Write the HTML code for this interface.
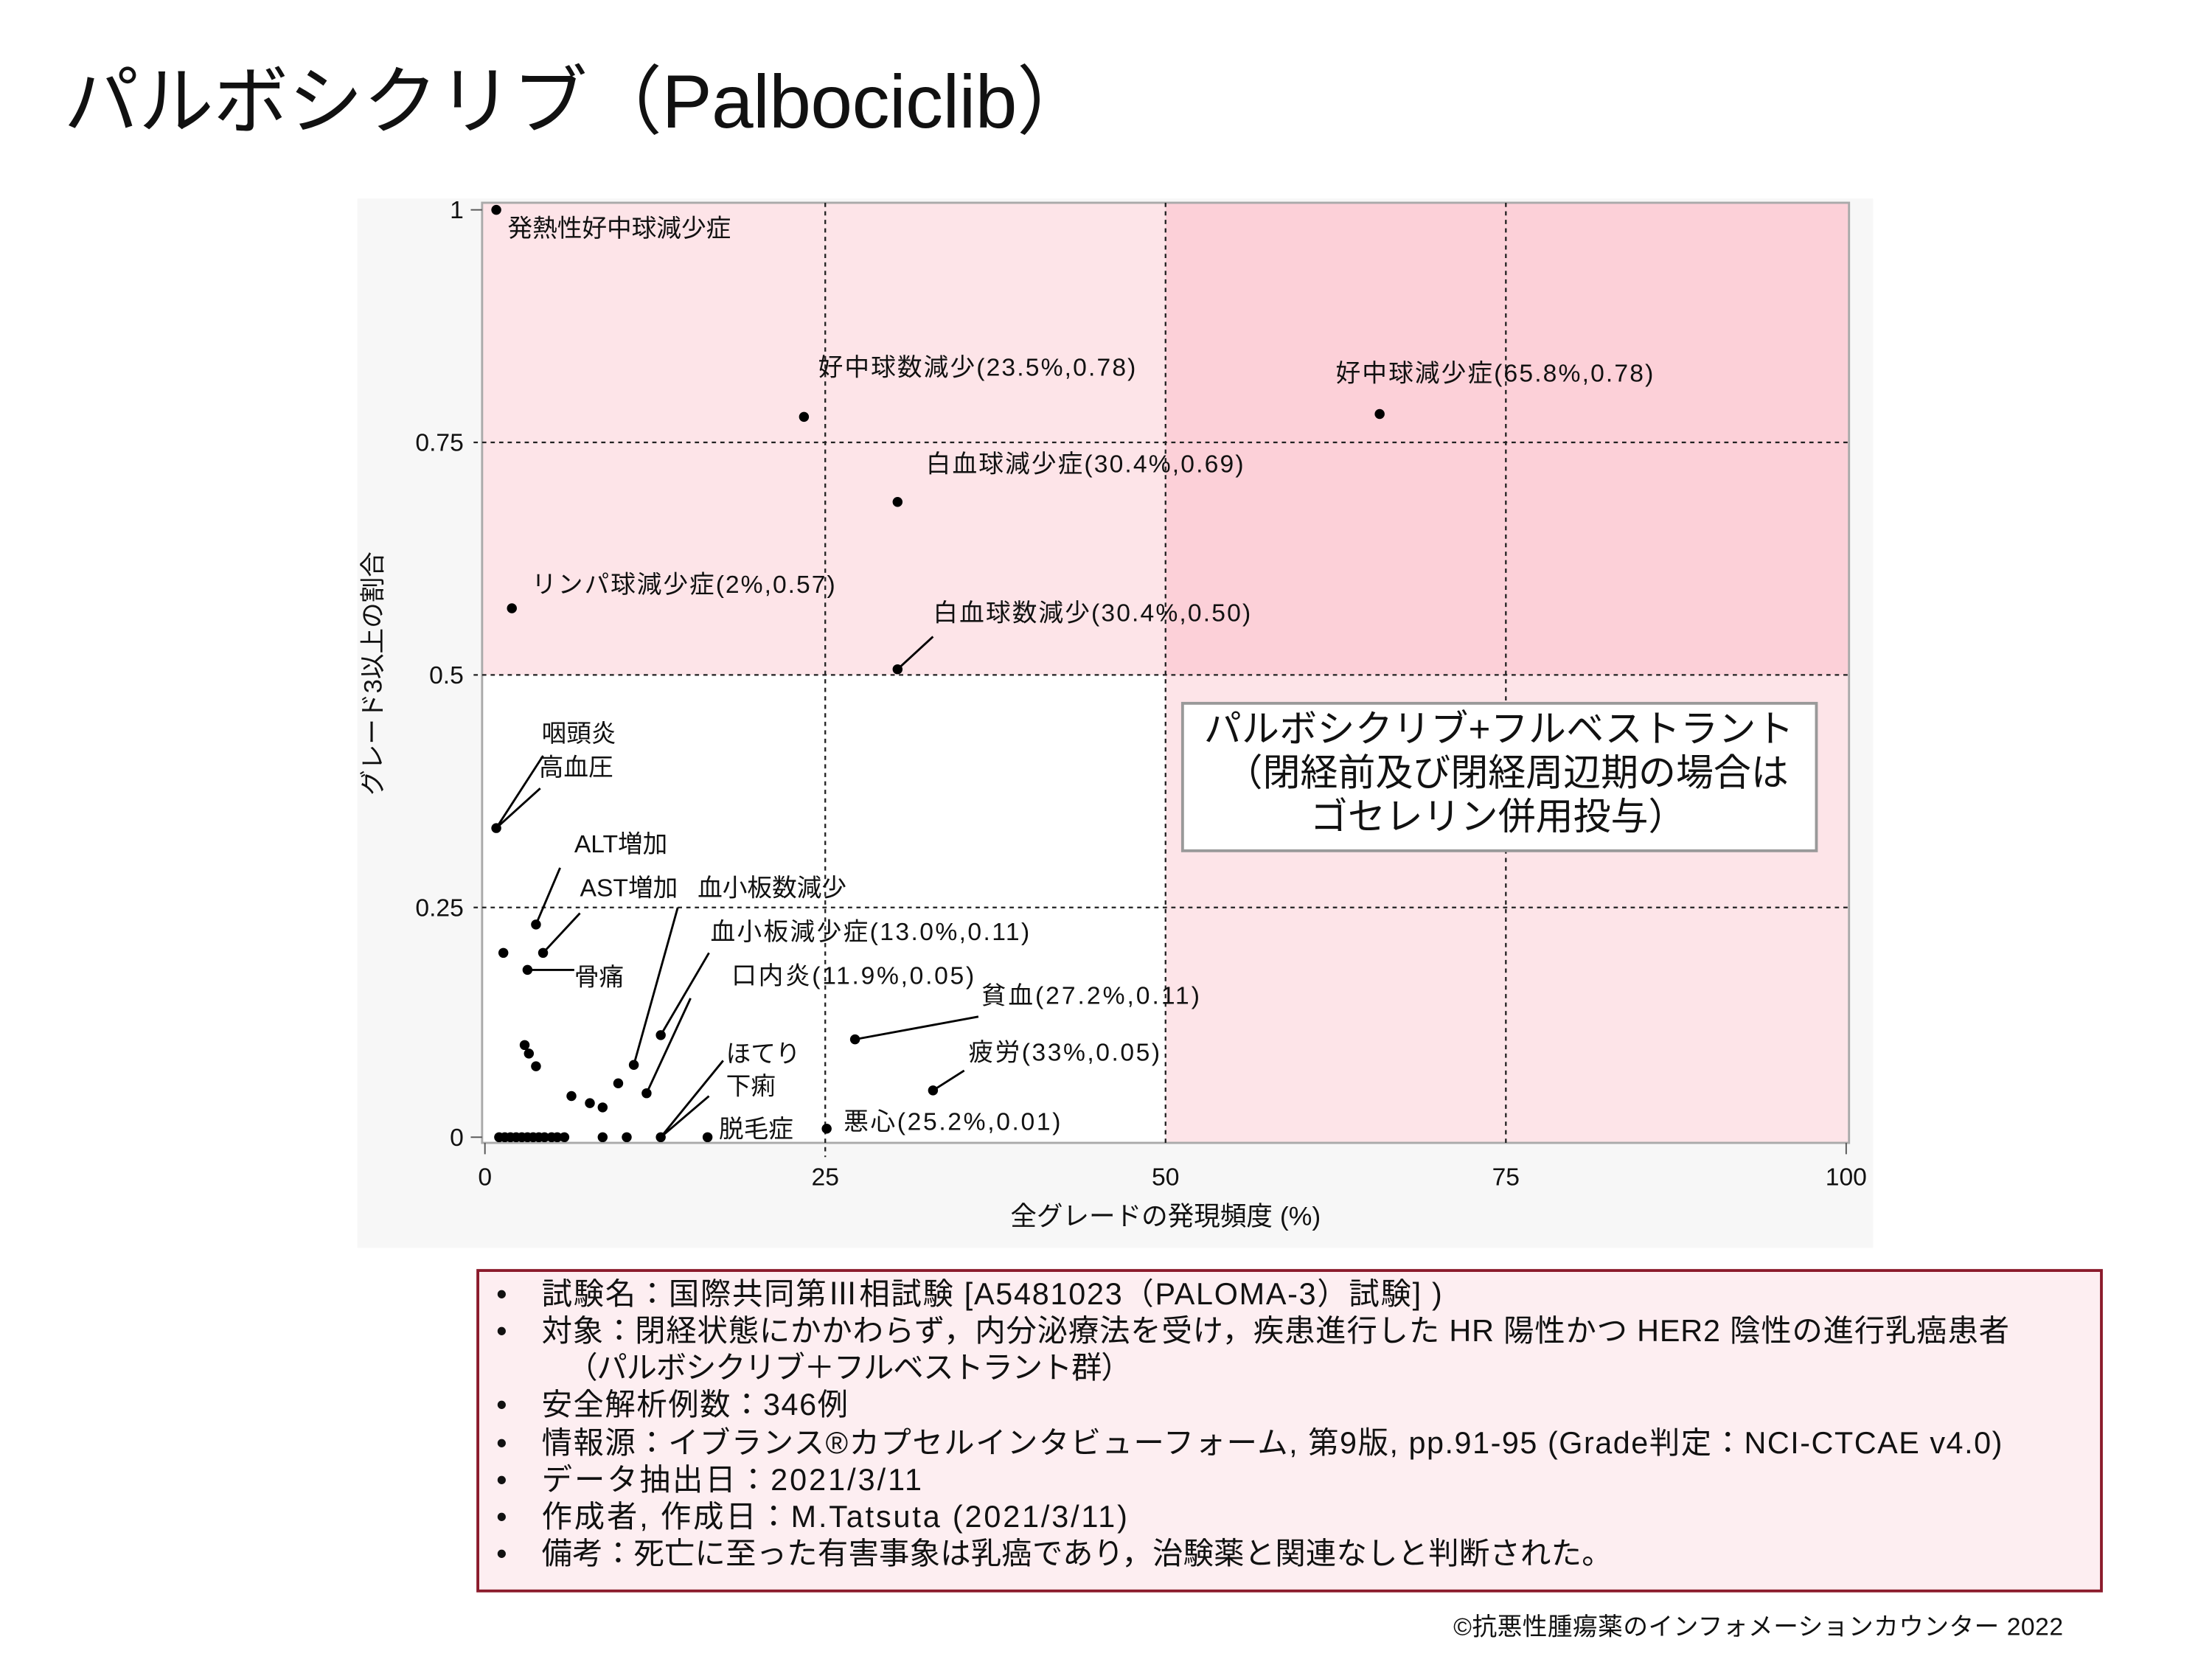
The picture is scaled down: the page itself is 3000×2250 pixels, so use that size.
<!DOCTYPE html>
<html><head><meta charset="utf-8"><style>
html,body{margin:0;padding:0;background:#fff;}
svg{display:block;}
text{font-family:"Liberation Sans","Noto Sans CJK JP",sans-serif;fill:#111;}
</style></head><body>
<svg width="3000" height="2250" viewBox="0 0 1560 1170" xmlns="http://www.w3.org/2000/svg">
<text x="45" y="90" font-size="53" textLength="725">パルボシクリブ（Palbociclib）</text>
<rect x="252" y="140" width="1069" height="740" fill="#f7f7f7"/>
<rect x="340" y="143" width="964" height="663" fill="#fff"/>
<rect x="340" y="143" width="482" height="333" fill="#fde4e8"/>
<rect x="822" y="143" width="482" height="333" fill="#fcd0d8"/>
<rect x="822" y="476" width="482" height="330" fill="#fde4e8"/>
<rect x="340" y="143" width="964" height="663" fill="none" stroke="#aaa" stroke-width="1.5"/>
<g stroke="#222" stroke-width="1.2" stroke-dasharray="3,3">
<line x1="582" y1="143" x2="582" y2="816"/>
<line x1="822" y1="143" x2="822" y2="806"/>
<line x1="1062" y1="143" x2="1062" y2="806"/>
<line x1="334" y1="312" x2="1304" y2="312"/>
<line x1="334" y1="476" x2="1304" y2="476"/>
<line x1="334" y1="640" x2="1304" y2="640"/>
</g>
<g stroke="#555" stroke-width="1">
<line x1="332" y1="148" x2="340" y2="148"/><line x1="332" y1="802" x2="340" y2="802"/>
<line x1="342" y1="806" x2="342" y2="814"/><line x1="1302" y1="806" x2="1302" y2="814"/>
</g>
<g font-size="17.5" text-anchor="end" fill="#333">
<text x="327" y="154">1</text><text x="327" y="318">0.75</text><text x="327" y="482">0.5</text><text x="327" y="646">0.25</text><text x="327" y="808">0</text>
</g>
<g font-size="17.5" text-anchor="middle">
<text x="342" y="836">0</text><text x="582" y="836">25</text><text x="822" y="836">50</text><text x="1062" y="836">75</text><text x="1302" y="836">100</text>
<text x="822" y="864" font-size="18.5">全グレードの発現頻度 (%)</text>
<text transform="translate(269,475) rotate(-90)" font-size="18">グレード3以上の割合</text>
</g>
<g stroke="#000" stroke-width="1.5">
<line x1="633" y1="472" x2="658" y2="449"/>
<line x1="350" y1="584" x2="381" y2="556"/>
<line x1="350" y1="584" x2="383" y2="533"/>
<line x1="378" y1="652" x2="395" y2="612"/>
<line x1="383" y1="672" x2="409" y2="644"/>
<line x1="372" y1="684" x2="405" y2="684"/>
<line x1="447" y1="751" x2="478" y2="640"/>
<line x1="466" y1="730" x2="500" y2="672"/>
<line x1="456" y1="771" x2="487" y2="704"/>
<line x1="603" y1="733" x2="690" y2="717"/>
<line x1="658" y1="769" x2="680" y2="755"/>
<line x1="466" y1="802" x2="510" y2="748"/>
<line x1="466" y1="802" x2="500" y2="773"/>
</g>
<g fill="#000">
<circle cx="350" cy="148" r="3.5"/><circle cx="567" cy="294" r="3.5"/><circle cx="973" cy="292" r="3.5"/>
<circle cx="633" cy="354" r="3.5"/><circle cx="361" cy="429" r="3.5"/><circle cx="633" cy="472" r="3.5"/>
<circle cx="350" cy="584" r="3.5"/><circle cx="378" cy="652" r="3.5"/><circle cx="383" cy="672" r="3.5"/>
<circle cx="355" cy="672" r="3.5"/><circle cx="372" cy="684" r="3.5"/><circle cx="447" cy="751" r="3.5"/>
<circle cx="466" cy="730" r="3.5"/><circle cx="456" cy="771" r="3.5"/><circle cx="603" cy="733" r="3.5"/>
<circle cx="658" cy="769" r="3.5"/><circle cx="583" cy="796" r="3.5"/><circle cx="466" cy="802" r="3.5"/>
<circle cx="370" cy="737" r="3.5"/><circle cx="373" cy="743" r="3.5"/><circle cx="378" cy="752" r="3.5"/>
<circle cx="403" cy="773" r="3.5"/><circle cx="416" cy="778" r="3.5"/><circle cx="425" cy="781" r="3.5"/>
<circle cx="436" cy="764" r="3.5"/><circle cx="499" cy="802" r="3.5"/><circle cx="425" cy="802" r="3.5"/>
<circle cx="442" cy="802" r="3.5"/>
<circle cx="352" cy="802" r="3.5"/><circle cx="356" cy="802" r="3.5"/><circle cx="360" cy="802" r="3.5"/>
<circle cx="364" cy="802" r="3.5"/><circle cx="368" cy="802" r="3.5"/><circle cx="372" cy="802" r="3.5"/>
<circle cx="376" cy="802" r="3.5"/><circle cx="380" cy="802" r="3.5"/><circle cx="384" cy="802" r="3.5"/>
<circle cx="389" cy="802" r="3.5"/><circle cx="393" cy="802" r="3.5"/><circle cx="398" cy="802" r="3.5"/>
</g>
<g font-size="17.5">
<text x="358" y="167">発熱性好中球減少症</text>
<text x="577" y="265" textLength="224">好中球数減少(23.5%,0.78)</text>
<text x="942" y="269" textLength="224">好中球減少症(65.8%,0.78)</text>
<text x="653" y="333" textLength="224">白血球減少症(30.4%,0.69)</text>
<text x="375" y="418" textLength="214">リンパ球減少症(2%,0.57)</text>
<text x="658" y="438" textLength="224">白血球数減少(30.4%,0.50)</text>
<text x="382" y="523">咽頭炎</text>
<text x="380" y="547">高血圧</text>
<text x="405" y="601">ALT増加</text>
<text x="409" y="632">AST増加</text>
<text x="492" y="632">血小板数減少</text>
<text x="501" y="663" textLength="225">血小板減少症(13.0%,0.11)</text>
<text x="405" y="695">骨痛</text>
<text x="516" y="694" textLength="171">口内炎(11.9%,0.05)</text>
<text x="692" y="708" textLength="154">貧血(27.2%,0.11)</text>
<text x="683" y="748" textLength="135">疲労(33%,0.05)</text>
<text x="512" y="749">ほてり</text>
<text x="512" y="772">下痢</text>
<text x="507" y="802">脱毛症</text>
<text x="595" y="797" textLength="153">悪心(25.2%,0.01)</text>
</g>
<rect x="834" y="496" width="447" height="104" fill="#fff" stroke="#999" stroke-width="2"/>
<g font-size="26.5">
<text x="849" y="523" textLength="416">パルボシクリブ+フルベストラント</text>
<text x="864" y="554">（閉経前及び閉経周辺期の場合は</text>
<text x="924" y="585">ゴセレリン併用投与）</text>
</g>
<rect x="337" y="896" width="1145" height="226" fill="#fdeef1" stroke="#8b1a2b" stroke-width="2"/>
<g font-size="21.5">
<text x="350" y="920">•</text><text x="382" y="920" textLength="635">試験名：国際共同第Ⅲ相試験 [A5481023（PALOMA-3）試験] )</text>
<text x="350" y="946">•</text><text x="382" y="946" textLength="1035">対象：閉経状態にかかわらず，内分泌療法を受け，疾患進行した HR 陽性かつ HER2 陰性の進行乳癌患者</text>
<text x="400" y="972" textLength="398">（パルボシクリブ＋フルベストラント群）</text>
<text x="350" y="998">•</text><text x="382" y="998" textLength="216">安全解析例数：346例</text>
<text x="350" y="1025">•</text><text x="382" y="1025" textLength="1030">情報源：イブランス®カプセルインタビューフォーム, 第9版, pp.91-95 (Grade判定：NCI-CTCAE v4.0)</text>
<text x="350" y="1051">•</text><text x="382" y="1051" textLength="268">データ抽出日：2021/3/11</text>
<text x="350" y="1077">•</text><text x="382" y="1077" textLength="413">作成者, 作成日：M.Tatsuta (2021/3/11)</text>
<text x="350" y="1103">•</text><text x="382" y="1103" textLength="755">備考：死亡に至った有害事象は乳癌であり，治験薬と関連なしと判断された。</text>
</g>
<text x="1025" y="1153" font-size="17.5" textLength="430">©抗悪性腫瘍薬のインフォメーションカウンター  2022</text>
</svg>
</body></html>
